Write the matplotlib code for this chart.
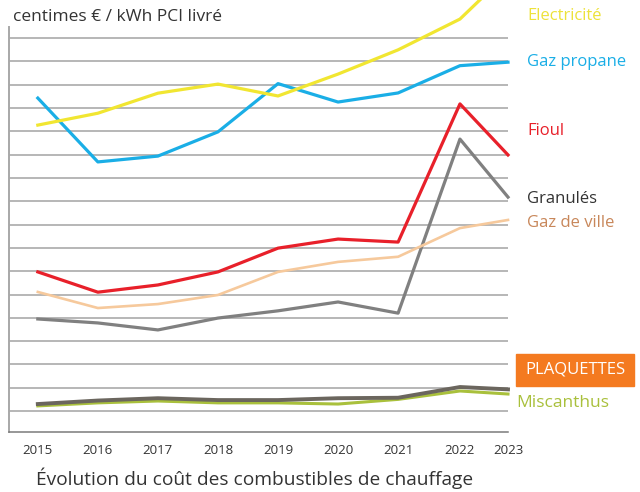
import matplotlib.pyplot as plt
from matplotlib.patches import Rectangle

plt.rcParams['font.family'] = ['Open Sans', 'DejaVu Sans']

years = ['2015', '2016', '2017', '2018', '2019', '2020', '2021', '2022', '2023']
x_pos = [0, 1, 2, 3, 4, 5, 6, 7.03, 7.83]

# values, in grid steps
electricite = [13.27, 13.78, 14.64, 15.03, 14.52, 15.46, 16.5, 17.82, 19.8]
gaz_propane = [14.43, 11.69, 11.94, 12.98, 15.05, 14.26, 14.65, 15.82, 15.97]
fioul = [6.97, 6.1, 6.41, 6.97, 7.99, 8.38, 8.25, 14.18, 11.99]
gaz_ville = [6.11, 5.42, 5.59, 5.98, 6.97, 7.4, 7.62, 8.85, 9.2]
granules = [4.95, 4.78, 4.48, 4.99, 5.3, 5.68, 5.2, 12.67, 10.18]
plaquettes = [1.3, 1.45, 1.55, 1.47, 1.47, 1.55, 1.57, 2.03, 1.93]
miscanthus = [1.22, 1.35, 1.43, 1.35, 1.35, 1.3, 1.5, 1.86, 1.73]

fig = plt.figure(figsize=(6.4, 4.92), dpi=100)
ax = fig.add_axes([9 / 640, 1 - 432 / 492, 499 / 640, 405 / 492])

ax.plot(x_pos, miscanthus, color='#a9c03c', lw=2.2, clip_on=False, zorder=3)
ax.plot(x_pos, plaquettes, color='#6b665e', lw=2.8, clip_on=False, zorder=4)
ax.plot(x_pos, granules, color='#808080', lw=2.3, clip_on=False, zorder=3)
ax.plot(x_pos, gaz_ville, color='#f6c99c', lw=1.9, clip_on=False, zorder=3)
ax.plot(x_pos, fioul, color='#e8202a', lw=2.3, clip_on=False, zorder=3)
ax.plot(x_pos, gaz_propane, color='#1aaee6', lw=2.3, clip_on=False, zorder=3)
ax.plot(x_pos, electricite, color='#f1e631', lw=2.3, clip_on=False, zorder=3)

ax.set_xlim(-0.48, 7.83)
ax.set_ylim(0.1, 17.48)
ax.set_yticks(range(1, 18))
ax.set_yticklabels([])
ax.yaxis.grid(True, color='#a3a3a3', lw=1.1)
ax.set_axisbelow(True)
ax.set_xticks(x_pos, years)
ax.tick_params(axis='both', length=0)
ax.tick_params(axis='x', pad=9, labelsize=9.5, labelcolor='#333333')
for s in ['top', 'right']:
    ax.spines[s].set_visible(False)
ax.spines['left'].set_color('#a8a8a8')
ax.spines['left'].set_linewidth(1.4)
ax.spines['bottom'].set_color('#7a7a7a')
ax.spines['bottom'].set_linewidth(1.1)

fig.text(13 / 640, 1 - 17 / 492, 'centimes € / kWh PCI livré', fontsize=12.5,
         color='#333333', va='center', ha='left')
fig.text(36 / 640, 1 - 478 / 492, 'Évolution du coût des combustibles de chauffage',
         fontsize=13.8, color='#333333', va='center', ha='left')

labels = [
    ('Electricité', 16, '#ede23a'),
    ('Gaz propane', 62, '#1aaee6'),
    ('Fioul', 131, '#e8202a'),
    ('Granulés', 199, '#333333'),
    ('Gaz de ville', 223, '#c8875a'),
]
for txt, y, c in labels:
    fig.text(527 / 640, 1 - y / 492, txt, fontsize=12, color=c, va='center', ha='left')

fig.patches.append(Rectangle((516 / 640, 1 - 386 / 492), 118 / 640, 32 / 492,
                             transform=fig.transFigure, color='#f47a20', zorder=5))
fig.text(575 / 640, 1 - 370 / 492, 'PLAQUETTES', fontsize=12, color='white',
         va='center', ha='center', zorder=6)
fig.text(516 / 640, 1 - 403 / 492, 'Miscanthus', fontsize=12.5, color='#a9c03c',
         va='center', ha='left')

fig.savefig('out.png', dpi=100)
